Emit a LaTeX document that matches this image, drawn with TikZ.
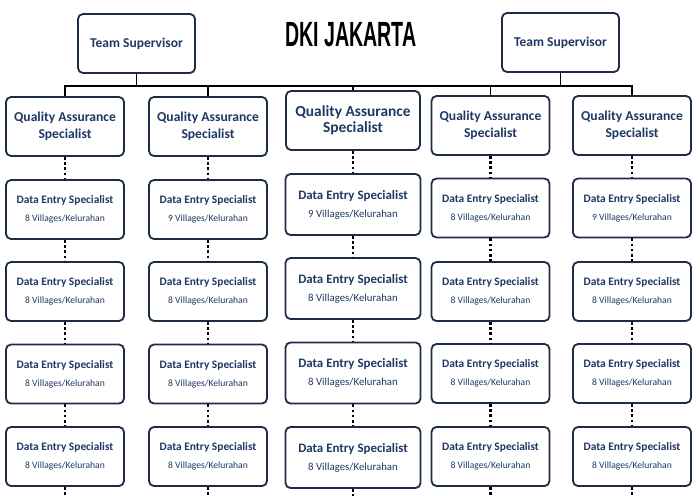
\documentclass[tikz,border=0pt]{standalone}
\usepackage{fontspec}
\setmainfont{Carlito}
\newfontfamily\titlefont{Liberation Sans}[FakeStretch=0.56]
\definecolor{boxline}{RGB}{30,45,70}
\definecolor{boxtext}{RGB}{31,56,100}
\newcommand{\vil}[2]{{\mdseries\fontsize{#1}{18}\selectfont #2 Villages/Kelurahan}}
\tikzset{
	box/.style={draw=boxline, line width=1.8pt, rounded corners=5pt, fill=white,
		text=boxtext, align=center, inner sep=0pt},
	tsbox/.style={box, minimum width=117pt, minimum height=59pt,
		font=\fontsize{13.5}{16}\selectfont\bfseries},
	qabox/.style={box, minimum width=118pt, minimum height=59pt,
		font=\fontsize{13.6}{16.5}\selectfont\bfseries},
	qabig/.style={box, minimum width=134pt, minimum height=59pt,
		font=\fontsize{15.4}{16.5}\selectfont\bfseries},
	debox/.style={box, minimum width=118pt, minimum height=59pt,
		font=\fontsize{11.4}{18}\selectfont\bfseries},
	debig/.style={box, minimum width=135pt, minimum height=61pt,
		font=\fontsize{12.9}{18}\selectfont\bfseries},
	bar/.style={line width=1.8pt, black},
	dotline/.style={line width=2.6pt, black, dash pattern=on 2.6pt off 2.6pt}
}
\begin{document}
\begin{tikzpicture}[x=1pt,y=-1pt]
\useasboundingbox[fill=white] (0,0) rectangle (700,495);

\node[font=\titlefont\bfseries\fontsize{35}{35}\selectfont] (title) at (351,34.5) {DKI JAKARTA};

\node[tsbox] (ts1) at (136.5,43.5) {Team Supervisor};
\node[tsbox] (ts2) at (560.5,42.5) {Team Supervisor};

\node[qabox] (qa1) at (65,126.5) {Quality Assurance\\Specialist};
\node[qabox] (qa2) at (208,126.5) {Quality Assurance\\Specialist};
\node[qabig] (qa3) at (353,120.5) {Quality Assurance\\Specialist};
\node[qabox] (qa4) at (490.5,125.5) {Quality Assurance\\Specialist};
\node[qabox] (qa5) at (632,125.5) {Quality Assurance\\Specialist};

% column 1
\node[debox] (d11) at (65,209.5) {Data Entry Specialist\\\vil{9.6}{8}};
\node[debox] (d12) at (65,291.5) {Data Entry Specialist\\\vil{9.6}{8}};
\node[debox] (d13) at (65,374) {Data Entry Specialist\\\vil{9.6}{8}};
\node[debox] (d14) at (65,456.5) {Data Entry Specialist\\\vil{9.6}{8}};
% column 2
\node[debox] (d21) at (208,209.5) {Data Entry Specialist\\\vil{9.6}{9}};
\node[debox] (d22) at (208,291.5) {Data Entry Specialist\\\vil{9.6}{8}};
\node[debox] (d23) at (208,374) {Data Entry Specialist\\\vil{9.6}{8}};
\node[debox] (d24) at (208,456.5) {Data Entry Specialist\\\vil{9.6}{8}};
% column 3
\node[debig] (d31) at (353,204.5) {Data Entry Specialist\\\vil{10.8}{9}};
\node[debig] (d32) at (353,288.5) {Data Entry Specialist\\\vil{10.8}{8}};
\node[debig] (d33) at (353,373) {Data Entry Specialist\\\vil{10.8}{8}};
\node[debig] (d34) at (353,457.5) {Data Entry Specialist\\\vil{10.8}{8}};
% column 4
\node[debox] (d41) at (490.5,208) {Data Entry Specialist\\\vil{9.6}{8}};
\node[debox] (d42) at (490.5,291.5) {Data Entry Specialist\\\vil{9.6}{8}};
\node[debox] (d43) at (490.5,373.5) {Data Entry Specialist\\\vil{9.6}{8}};
\node[debox] (d44) at (490.5,456.5) {Data Entry Specialist\\\vil{9.6}{8}};
% column 5
\node[debox] (d51) at (632,208) {Data Entry Specialist\\\vil{9.6}{9}};
\node[debox] (d52) at (632,291.5) {Data Entry Specialist\\\vil{9.6}{8}};
\node[debox] (d53) at (632,373.5) {Data Entry Specialist\\\vil{9.6}{8}};
\node[debox] (d54) at (632,456.5) {Data Entry Specialist\\\vil{9.6}{8}};

% top bar
\coordinate (barR) at (632,86);
\draw[bar] (qa1.north) |- (barR) -- (qa5.north);
\draw[bar] (ts1.south) -- (ts1.south |- barR);
\draw[bar] (ts2.south) -- (ts2.south |- barR);
\draw[bar] (qa2.north) -- (qa2.north |- barR);
\draw[bar] (qa3.north) -- (qa3.north |- barR);
\draw[bar] (qa4.north) -- (qa4.north |- barR);

% dotted links
\draw[dotline] (qa1.south) -- (d11.north) (d11.south) -- (d12.north)
	(d12.south) -- (d13.north) (d13.south) -- (d14.north);
\draw[dotline] (qa2.south) -- (d21.north) (d21.south) -- (d22.north)
	(d22.south) -- (d23.north) (d23.south) -- (d24.north);
\draw[dotline] (qa3.south) -- (d31.north) (d31.south) -- (d32.north)
	(d32.south) -- (d33.north) (d33.south) -- (d34.north);
\draw[dotline] (qa4.south) -- (d41.north) (d41.south) -- (d42.north)
	(d42.south) -- (d43.north) (d43.south) -- (d44.north);
\draw[dotline] (qa5.south) -- (d51.north) (d51.south) -- (d52.north)
	(d52.south) -- (d53.north) (d53.south) -- (d54.north);

% stubs below the last row
\coordinate (btm) at (0,497);
\foreach \c in {1,...,5}
	\draw[dotline] (d\c4.south) -- (d\c4.south |- btm);
\end{tikzpicture}
\end{document}
